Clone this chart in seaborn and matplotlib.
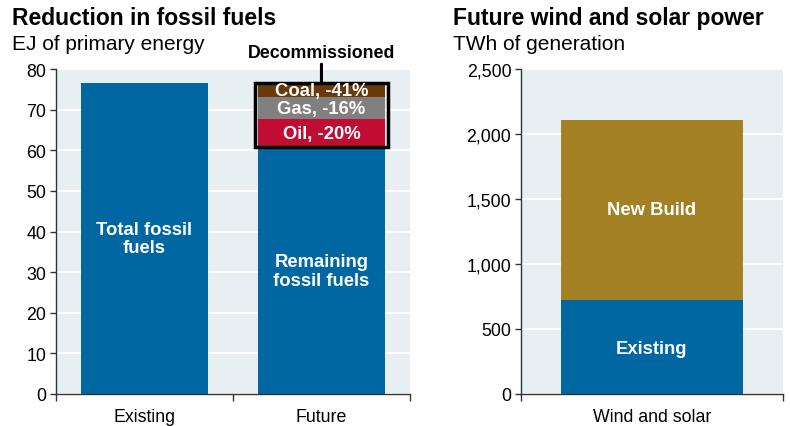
import seaborn as sns
import matplotlib.pyplot as plt
import matplotlib.ticker as mticker
from matplotlib.patches import Rectangle
import pandas as pd

# Dados
categorias_fosseis = ["Existing", "Future"]
total_existente = 76.5
restante_futuro = 60.7
decomissionado = ["Oil, -20%", "Gas, -16%", "Coal, -41%"]
valores_decom = [7.0, 5.3, 3.6]
cores_decom = ["#C00D31", "#808080", "#6B3A0A"]

categoria_renov = ["Wind and solar"]
renov_existente = 725
renov_nova = 1385

AZUL = "#0067A3"
OURO = "#A38023"
FUNDO = "#E7EFF3"

sns.set_style("white", {"axes.facecolor": FUNDO})
plt.rcParams["font.family"] = ["Liberation Sans", "DejaVu Sans"]
plt.rcParams["text.color"] = "black"
plt.rcParams["xtick.color"] = "black"
plt.rcParams["ytick.color"] = "black"

fig = plt.figure(figsize=(7.9, 4.27), dpi=100)
ax1 = fig.add_axes([0.0709, 0.075, 0.448, 0.761])
ax2 = fig.add_axes([0.6595, 0.075, 0.3315, 0.761])

barra_kw = dict(saturation=1, linewidth=0, edgecolor="none", zorder=2)

# ---- Painel esquerdo: barras empilhadas (do maior acumulado para o menor)
acumulado = [restante_futuro]
for v in valores_decom:
    acumulado.append(acumulado[-1] + v)

df_exist = pd.DataFrame({"cat": ["Existing"], "valor": [total_existente]})
sns.barplot(data=df_exist, x="cat", y="valor", order=categorias_fosseis,
            color=AZUL, width=0.72, ax=ax1, **barra_kw)

cores_acum = cores_decom[::-1] + [AZUL]
alturas = acumulado[::-1]
for h, c in zip(alturas, cores_acum):
    df_f = pd.DataFrame({"cat": ["Future"], "valor": [h]})
    sns.barplot(data=df_f, x="cat", y="valor", order=categorias_fosseis,
                color=c, width=0.72, ax=ax1, **barra_kw)

# Caixa dos descomissionados
ax1.add_patch(Rectangle((1 - 0.375, restante_futuro), 0.75, acumulado[-1] - restante_futuro,
                        fill=False, edgecolor="black", linewidth=2.5, zorder=4, clip_on=False))
ax1.annotate("Decommissioned", xy=(1, acumulado[-1]), xytext=(1, 82.0),
             ha="center", va="bottom", fontsize=12.8, fontweight="bold",
             arrowprops=dict(arrowstyle="-", color="black", lw=2.2, shrinkA=0, shrinkB=0),
             annotation_clip=False)

# Rótulos dentro das barras
ax1.text(0, 38.3, "Total fossil\nfuels", ha="center", va="center", color="white",
         fontsize=13.3, fontweight="bold", linespacing=1.1)
ax1.text(1, 30.3, "Remaining\nfossil fuels", ha="center", va="center", color="white",
         fontsize=13.3, fontweight="bold", linespacing=1.1)
base = restante_futuro
for rotulo, v in zip(decomissionado, valores_decom):
    ax1.text(1, base + v / 2, rotulo, ha="center", va="center", color="white",
             fontsize=13.3, fontweight="bold", zorder=5)
    base += v

ax1.set_ylim(0, 80)
ax1.set_xlim(-0.5, 1.5)
ax1.set_yticks(range(0, 81, 10))

# ---- Painel direito
df_r_total = pd.DataFrame({"cat": categoria_renov, "valor": [renov_existente + renov_nova]})
df_r_exist = pd.DataFrame({"cat": categoria_renov, "valor": [renov_existente]})
sns.barplot(data=df_r_total, x="cat", y="valor", color=OURO, width=0.695, ax=ax2, **barra_kw)
sns.barplot(data=df_r_exist, x="cat", y="valor", color=AZUL, width=0.695, ax=ax2, **barra_kw)
ax2.text(0, renov_existente + renov_nova / 2, "New Build", ha="center", va="center",
         color="white", fontsize=13.3, fontweight="bold")
ax2.text(0, renov_existente / 2 - 15, "Existing", ha="center", va="center",
         color="white", fontsize=13.3, fontweight="bold")
ax2.set_ylim(0, 2500)
ax2.set_xlim(-0.5, 0.5)
ax2.set_yticks(range(0, 2501, 500))
ax2.yaxis.set_major_formatter(mticker.StrMethodFormatter("{x:,.0f}"))

# Estilo comum
for ax, n in [(ax1, 2), (ax2, 1)]:
    ax.set_xlabel("")
    ax.set_ylabel("")
    ax.grid(axis="y", color="white", linewidth=1.5, zorder=0)
    ax.set_axisbelow(True)
    for s in ["top", "right"]:
        ax.spines[s].set_visible(False)
    for s in ["left", "bottom"]:
        ax.spines[s].set_color("#333333")
        ax.spines[s].set_linewidth(1.0)
    ax.tick_params(axis="y", which="major", length=4, width=1, color="#333333",
                   labelsize=12.8, pad=3, direction="out", left=True)
    ax.tick_params(axis="x", which="major", length=0, labelsize=12.8, pad=10)
    ax.set_xticks([i - 0.5 for i in range(n + 1)], minor=True)
    ax.tick_params(axis="x", which="minor", length=5, width=1, color="#333333",
                   direction="out", bottom=True)

# Títulos
fig.text(0.015, 0.957, "Reduction in fossil fuels", fontsize=16.5, fontweight="bold",
         ha="left", va="center")
fig.text(0.015, 0.896, "EJ of primary energy", fontsize=15, ha="left", va="center")
fig.text(0.573, 0.957, "Future wind and solar power", fontsize=16.5, fontweight="bold",
         ha="left", va="center")
fig.text(0.573, 0.896, "TWh of generation", fontsize=15, ha="left", va="center")

fig.savefig("out.png", dpi=100)
